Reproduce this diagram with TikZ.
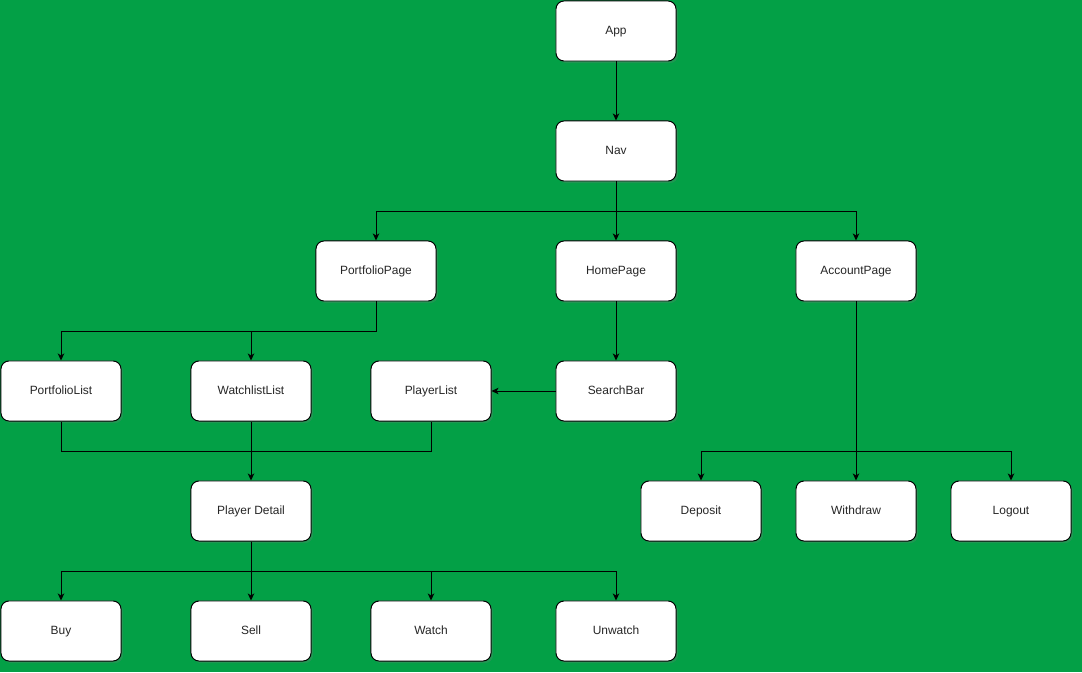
\documentclass[tikz,border=0pt]{standalone}
\usepackage{fontspec}
\setmainfont{Liberation Sans}
\usetikzlibrary{arrows.meta,shadows}
\definecolor{bggreen}{RGB}{3,160,70}

\begin{document}
\begin{tikzpicture}[x=0.025cm, y=0.025cm, >={Stealth[length=5pt,width=4.6pt,inset=1.4pt]},
    every node/.style={font=\fontsize{8.5}{10}\selectfont},
    box/.style={draw=black, line width=0.7pt, fill=white, rounded corners=0.2cm,
        minimum width=3cm, minimum height=1.5cm, inner sep=0pt,
        text height=6.2pt, text depth=1.8pt, text=black!85,
        drop shadow={opacity=0.25, shadow xshift=0.05cm, shadow yshift=-0.05cm}},
    link/.style={line width=0.7pt}]
    \fill[bggreen] (0,0) rectangle (1082,672);
    \useasboundingbox (0,0) rectangle (1082,672);

    \foreach \n/\x/\y/\t in {app/616/641/App, nav/616/521/Nav,
        pp/376/401/PortfolioPage, hp/616/401/HomePage, ap/856/401/AccountPage,
        pfl/61/281/PortfolioList, wl/251/281/WatchlistList, pl/431/281/PlayerList, sb/616/281/SearchBar,
        pd/251/161/Player Detail, dep/701/161/Deposit, wd/856/161/Withdraw, lo/1011/161/Logout,
        buy/61/41/Buy, sell/251/41/Sell, watch/431/41/Watch, unwatch/616/41/Unwatch}
        \node[box] (\n) at (\x,\y) {\t};

    \draw[link,->] (app) -- (nav);
    \draw[link,->] (nav) -- (hp);
    \foreach \m in {pp,ap}
        \draw[link,->] (nav.south) -- ++(0,-30) -| (\m.north);
    \foreach \m in {pfl,wl}
        \draw[link,->] (pp.south) -- ++(0,-30) -| (\m.north);
    \draw[link,->] (hp) -- (sb);
    \draw[link,->] (sb) -- (pl);

    % the three lists lead to one detail page
    \draw[link] (pfl.south) -- ++(0,-30) -| (pl.south);
    \draw[link,->] (wl) -- (pd);

    \draw[link,->] (ap) -- (wd);
    \foreach \m in {dep,lo}
        \draw[link,->] (ap.south) -- ++(0,-150) -| (\m.north);

    \draw[link,->] (pd) -- (sell);
    \foreach \m in {buy,watch,unwatch}
        \draw[link,->] (pd.south) -- ++(0,-30) -| (\m.north);
\end{tikzpicture}
\end{document}
